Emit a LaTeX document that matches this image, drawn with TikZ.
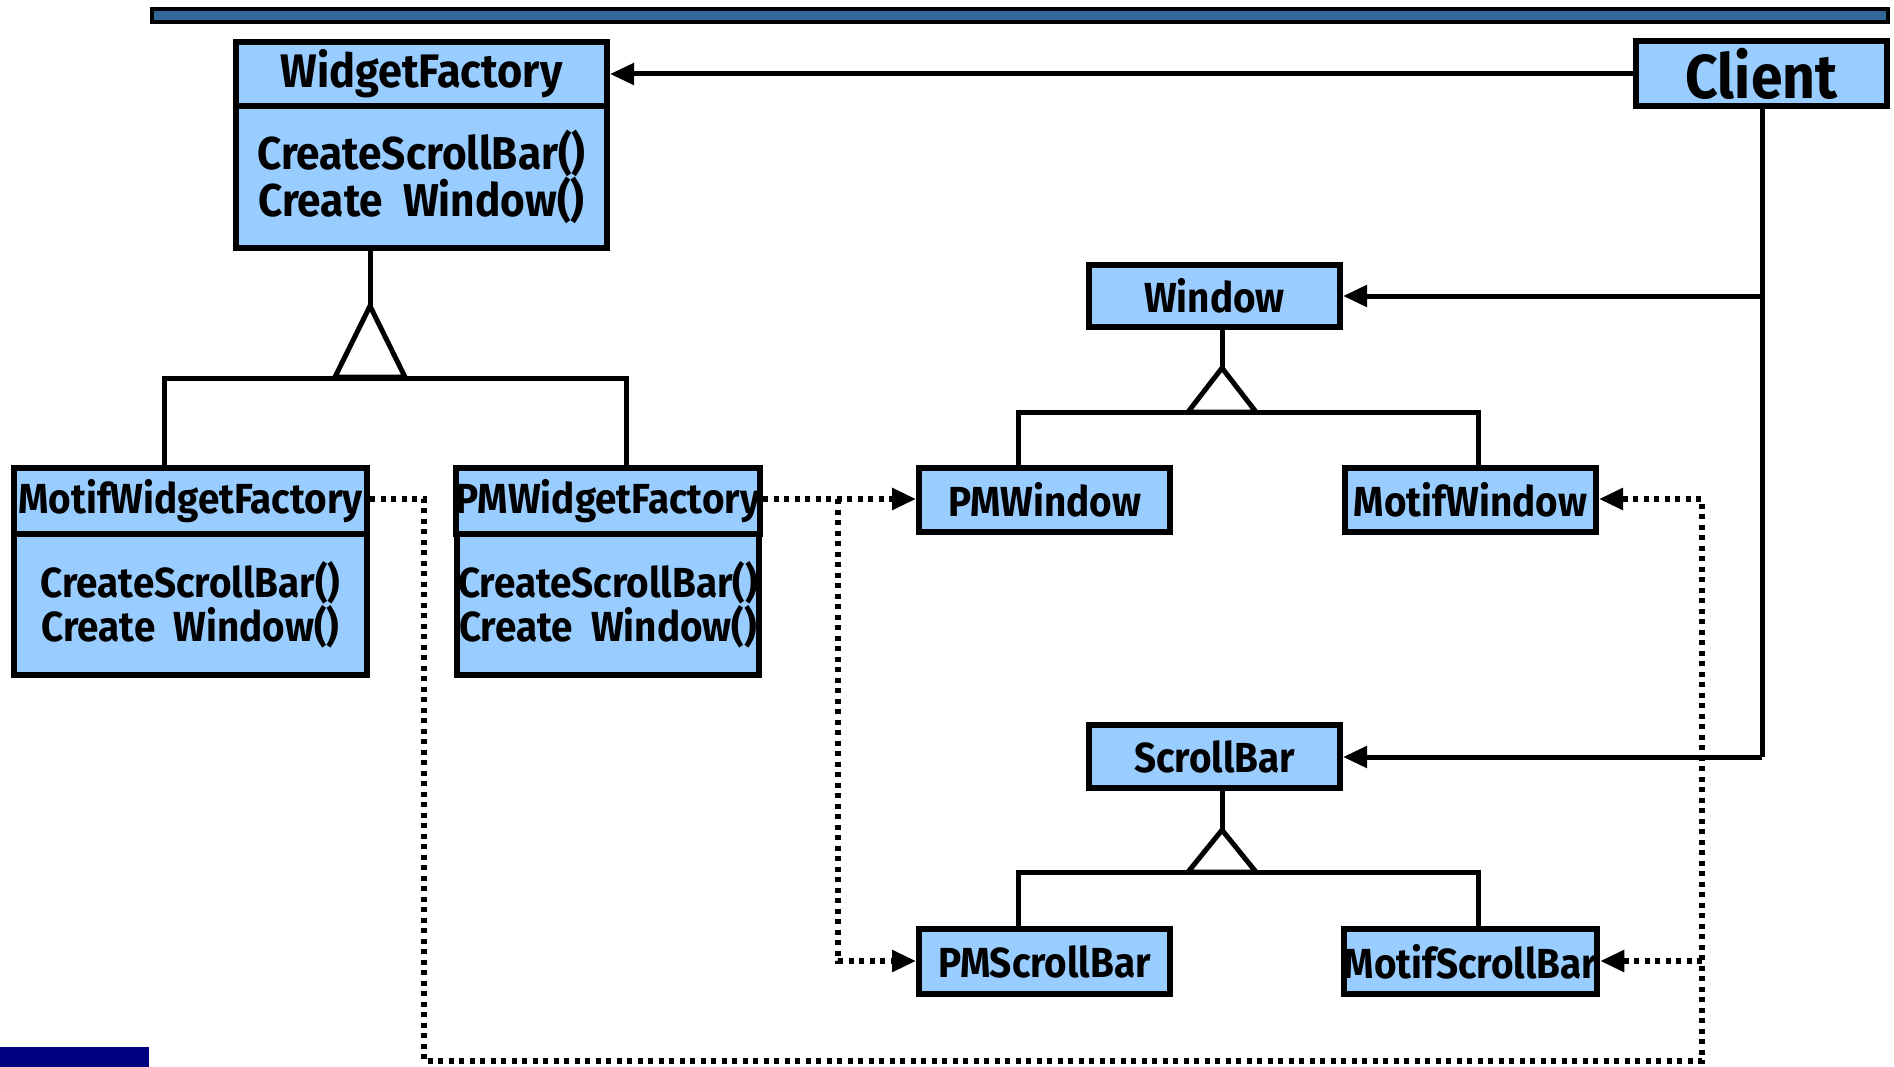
\documentclass[tikz,border=0pt]{standalone}
\usepackage{fontspec}
\setmainfont{Fira Sans}[FakeStretch=0.92]
\usetikzlibrary{arrows.meta}
\definecolor{boxblue}{HTML}{99CCFF}
\definecolor{barblue}{HTML}{336699}
\definecolor{navy}{HTML}{000080}
\tikzset{
  box/.style={draw, line width=6pt, fill=boxblue, inner sep=0pt, align=center,
    font=\bfseries\fontsize{42}{41}\selectfont},
  bigfont/.style={font=\bfseries\fontsize{47}{47}\selectfont},
  methfont/.style={font=\bfseries\fontsize{46}{47}\selectfont},
  solidline/.style={line width=5pt},
  dotline/.style={line width=5.5pt, dash pattern=on 5pt off 5.5pt},
  arr/.style={-{Triangle[length=24pt,width=21pt]}},
  gen/.style={line width=5pt, fill=white, line join=miter},
}
\begin{document}
\begin{tikzpicture}[x=1pt,y=-1pt]
\useasboundingbox (0,0) rectangle (1894,1067);
% top bar and corner mark
\draw[fill=barblue, line width=4pt] (152,9) rectangle (1888,22);
\fill[navy] (0,1047) rectangle (149,1067);
% abstract factory
\node[box, bigfont, minimum width=371pt, minimum height=64pt] (WFt) at (421.5,74) {WidgetFactory};
\node[box, methfont, minimum width=371pt, minimum height=142pt, anchor=north] (WFb) at ([yshift=6pt]WFt.south) {CreateScrollBar()\\Create~ Window()};
% client
\node[box, font=\bfseries\fontsize{62}{62}\selectfont, minimum width=251pt, minimum height=65pt] (client) at (1761.5,74) {Client};
% concrete factories
\node[box, minimum width=353pt, minimum height=66pt] (MWFt) at (190.5,501) {MotifWidgetFactory};
\node[box, minimum width=353pt, minimum height=141pt, anchor=north] (MWFb) at ([yshift=6pt]MWFt.south) {CreateScrollBar()\\Create~ Window()};
\node[box, minimum width=302pt, minimum height=66pt] (PWFt) at (608,501) {PMWidgetFactory};
\node[box, minimum width=302pt, minimum height=141pt, anchor=north] (PWFb) at ([yshift=6pt]PWFt.south) {CreateScrollBar()\\Create~ Window()};
% products
\node[box, minimum width=251pt, minimum height=62pt] (win) at (1214.5,296) {Window};
\node[box, minimum width=251pt, minimum height=64pt] (pmwin) at (1044.5,500) {PMWindow};
\node[box, minimum width=251pt, minimum height=64pt] (mowin) at (1470.5,500) {MotifWindow};
\node[box, minimum width=251pt, minimum height=63pt] (sb) at (1214.5,756.5) {ScrollBar};
\node[box, minimum width=251pt, minimum height=65pt] (pmsb) at (1044.5,961.5) {PMScrollBar};
\node[box, minimum width=251pt, minimum height=65pt] (mosb) at (1470.5,961.5) {MotifScrollBar};
% client associations
\draw[solidline, arr] (client.west) -- (WFt.east |- client.west);
\coordinate (cw) at (1762,296);
\coordinate (cs) at (1762,757);
\draw[solidline] (client.south -| cw) -- (cs);
\draw[solidline, arr] (cw) -- (win.east |- cw);
\draw[solidline, arr] (cs) -- (sb.east |- cs);
% generalization: factory
\coordinate (wfa) at (370,306);
\coordinate (fl) at (164,378);
\coordinate (fr) at (626,378);
\draw[solidline] (wfa |- WFb.south) -- (wfa);
\draw[gen] (wfa) -- (335,377) -- (405,377) -- cycle;
\draw[solidline] (fl |- MWFt.north) -- (fl) -- (fr) -- (fr |- PWFt.north);
% generalization: window
\coordinate (wa) at (1222,368);
\coordinate (wl) at (1018,412);
\coordinate (wr) at (1478,412);
\draw[solidline] (wa |- win.south) -- (wa);
\draw[gen] (wa) -- (1188,412) -- (1256,412) -- cycle;
\draw[solidline] (wl |- pmwin.north) -- (wl) -- (wr) -- (wr |- mowin.north);
% generalization: scrollbar
\coordinate (sa) at (1222,830);
\coordinate (sl) at (1018,872);
\coordinate (sr) at (1478,872);
\draw[solidline] (sa |- sb.south) -- (sa);
\draw[gen] (sa) -- (1188,872) -- (1256,872) -- cycle;
\draw[solidline] (sl |- pmsb.north) -- (sl) -- (sr) -- (sr |- mosb.north);
% dependencies (creates)
\coordinate (pb) at (838,499);
\coordinate (pc) at (838,961);
\draw[dotline, arr] (PWFt.east |- pb) -- (pmwin.west |- pb);
\draw[dotline, arr] (pb) -- (pc) -- (pmsb.west |- pc);
\coordinate (m1) at (424,499);
\coordinate (m2) at (424,1061);
\coordinate (m3) at (1702,1061);
\coordinate (m4) at (1702,499);
\coordinate (m5) at (1702,961);
\draw[dotline, arr] (MWFt.east |- m1) -- (m1) -- (m2) -- (m3) -- (m4) -- (mowin.east |- m4);
\draw[dotline, arr] (m5) -- (mosb.east |- m5);
\end{tikzpicture}
\end{document}
